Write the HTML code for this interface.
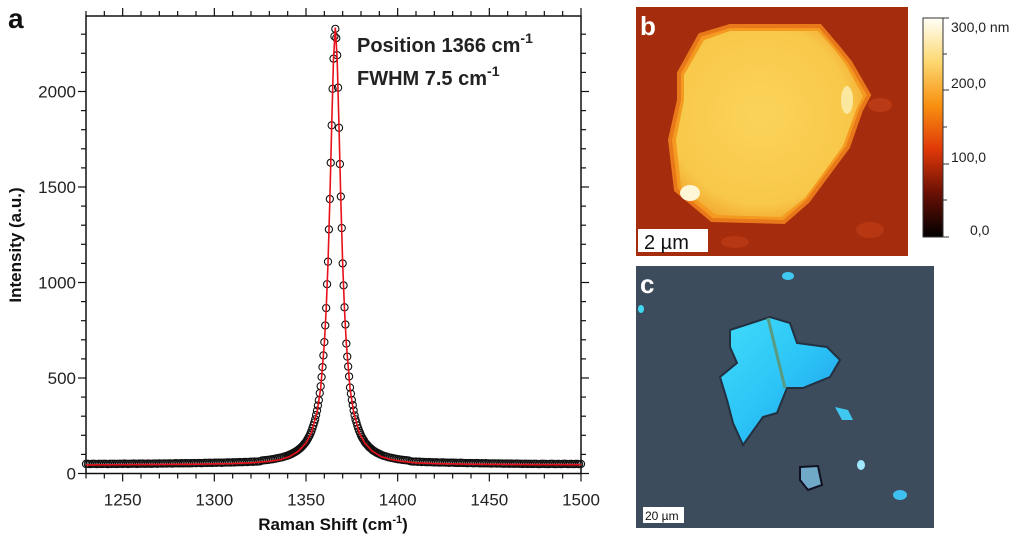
<!DOCTYPE html>
<html><head><meta charset="utf-8">
<style>
body{margin:0;background:#fff;width:1024px;height:539px;overflow:hidden;font-family:"Liberation Sans","DejaVu Sans",sans-serif;}
svg{position:absolute;left:0;top:0}
</style></head>
<body>
<svg id="chart" width="1024" height="539">
  <text x="8" y="28" font-size="28" font-weight="bold" fill="#111">a</text>
  <g id="axes"></g>
  <g id="marks"></g>
  <text x="357" y="52" font-size="20" font-weight="bold" fill="#222">Position 1366 cm<tspan dy="-9" font-size="14">-1</tspan></text>
  <text x="357" y="85" font-size="20" font-weight="bold" fill="#222">FWHM 7.5 cm<tspan dy="-9" font-size="14">-1</tspan></text>
  <text x="333" y="530" font-size="17" font-weight="bold" fill="#111" text-anchor="middle">Raman Shift (cm<tspan dy="-7" font-size="11">-1</tspan><tspan dy="7">)</tspan></text>
  <text transform="translate(21,245) rotate(-90)" font-size="17" font-weight="bold" fill="#111" text-anchor="middle">Intensity (a.u.)</text>

  <!-- panel b AFM -->
  <g>
    <defs>
      <radialGradient id="flk" cx="0.45" cy="0.45" r="0.6">
        <stop offset="0" stop-color="#fbd35a"/><stop offset="0.8" stop-color="#f8c84a"/><stop offset="1" stop-color="#f2a830"/>
      </radialGradient>
      <linearGradient id="cbar" x1="0" y1="1" x2="0" y2="0">
        <stop offset="0" stop-color="#000"/><stop offset="0.2" stop-color="#6a1005"/><stop offset="0.4" stop-color="#e03808"/><stop offset="0.6" stop-color="#f89010"/><stop offset="0.8" stop-color="#fcd870"/><stop offset="1" stop-color="#fffff8"/>
      </linearGradient>
    </defs>
    <rect x="636" y="7" width="272" height="249" fill="#a52c0c"/>
    <ellipse cx="880" cy="105" rx="12" ry="7" fill="#c24018" opacity="0.7"/>
    <ellipse cx="870" cy="230" rx="14" ry="8" fill="#c24018" opacity="0.6"/>
    <ellipse cx="735" cy="242" rx="14" ry="6" fill="#c24018" opacity="0.6"/>
    <polygon points="700,35 730,26 820,26 837,46 850,62 869,95 861,110 848,147 808,201 784,222 712,220 676,190 670,140 679,100 679,73" fill="#f59a20" stroke="#e8781a" stroke-width="4"/>
    <polygon points="704,40 730,31 818,31 834,49 846,65 863,96 856,110 843,146 805,198 781,217 716,215 681,187 676,140 684,100 684,75" fill="url(#flk)"/>
    <ellipse cx="690" cy="193" rx="10" ry="8" fill="#fff6d8"/>
    <ellipse cx="847" cy="100" rx="6" ry="14" fill="#fbe8a0"/>
    <rect x="638" y="229" width="70" height="23" fill="#fff"/>
    <text x="644" y="249" font-size="20" fill="#111">2 µm</text>
    <text x="640" y="35" font-size="26" font-weight="bold" fill="#fff">b</text>
  </g>
  <g>
    <rect x="923" y="18" width="20" height="219" fill="url(#cbar)" stroke="#333" stroke-width="1"/>
    <g stroke="#333" stroke-width="1">
      <line x1="943" y1="18" x2="949" y2="18"/><line x1="943" y1="54" x2="947" y2="54"/><line x1="943" y1="90" x2="949" y2="90"/><line x1="943" y1="127" x2="947" y2="127"/><line x1="943" y1="164" x2="949" y2="164"/><line x1="943" y1="200" x2="947" y2="200"/><line x1="943" y1="237" x2="949" y2="237"/>
    </g>
    <text x="951" y="32" font-size="14" fill="#222">300,0 nm</text>
    <text x="951" y="88" font-size="14" fill="#222">200,0</text>
    <text x="951" y="162" font-size="14" fill="#222">100,0</text>
    <text x="970" y="235" font-size="14" fill="#222">0,0</text>
  </g>

  <!-- panel c optical -->
  <g>
    <defs>
      <linearGradient id="cyn" x1="0" y1="0" x2="1" y2="1">
        <stop offset="0" stop-color="#40dcfa"/><stop offset="0.5" stop-color="#2cc4f6"/><stop offset="1" stop-color="#2098e8"/>
      </linearGradient>
    </defs>
    <rect x="636" y="266" width="298" height="262" fill="#3c4c5c"/>
    <polygon points="730,330 770,317 790,323 797,343 827,347 840,360 830,377 803,388 787,388 777,413 763,417 743,445 733,423 727,400 720,377 737,363 730,347" fill="url(#cyn)" stroke="#223040" stroke-width="2"/>
    <line x1="768" y1="318" x2="785" y2="388" stroke="#5a9a80" stroke-width="3"/>
    <polygon points="835,407 848,410 853,420 842,420" fill="#40c8f0"/>
    <polygon points="800,467 818,466 822,485 808,490 800,480" fill="#70a8c8" stroke="#112" stroke-width="2"/>
    <ellipse cx="861" cy="465" rx="4" ry="5" fill="#a0e8ff"/>
    <ellipse cx="900" cy="495" rx="7" ry="5" fill="#40c0f0"/>
    <ellipse cx="788" cy="276" rx="6" ry="4" fill="#40c8f0"/>
    <ellipse cx="641" cy="309" rx="3" ry="4" fill="#40d8f0"/>
    <rect x="643" y="507" width="41" height="16" fill="#fff"/>
    <text x="645" y="520" font-size="12" fill="#111">20 µm</text>
    <text x="640" y="293" font-size="26" font-weight="bold" fill="#fff">c</text>
  </g>
</svg>
<script>
// ---- chart data ----
const xStart = 1230;
const xTicks = [1250, 1300, 1350, 1400, 1450, 1500];
const yTicks = [0, 500, 1000, 1500, 2000];
// measured intensities at integer shifts 1230..1500
const intensity = [
50,51,49,50,51,50,49,51,50,50,51,50,49,51,50,51,50,50,51,51,50,52,51,50,51,51,52,51,50,52,51,52,51,51,52,51,
51,52,52,51,53,52,52,53,52,53,53,52,53,54,53,53,54,53,54,54,
53,54,54,55,54,55,55,54,55,56,55,56,56,55,57,56,57,57,56,57,
57,58,58,57,59,58,59,59,60,59,60,61,60,61,62,61,63,62,63,64,
68,69,70,71,72,74,75,77,79,81,
83,85,88,91,94,98,102,107,112,118,
126,134,143,154,166,182,200,223,251,284,
329,384,457,557,688,866,1109,1437,1823,2172,
2328,
2190,1810,1450,1100,870,680,560,450,385,330,
284,251,223,200,182,166,154,143,134,126,
118,112,107,102,98,94,91,88,85,83,
81,79,77,75,74,72,71,70,69,68,
64,63,62,63,61,62,60,61,60,59,60,59,59,58,59,58,57,58,58,57,
57,56,57,57,56,56,55,56,56,55,55,54,55,55,54,54,55,54,53,54,
53,54,53,53,52,53,53,52,53,52,52,51,52,52,51,52,51,51,52,51,
51,50,51,51,50,51,50,50,51,50,49,50,51,50,50,49,50,51,50,49,50,50,49,50,51,50,49,50,50,49,50,50,49,50];
// extra measured intensities at half-step shifts 1340.5..1390.5
const halfStart = 1340.5;
const intensityHalf = [96,100,105,110,116,122,129,138,148,160,174,191,211,237,267,306,356,421,505,618,775,991,1278,1627,2014,2289,
2280,2020,1620,1285,985,780,612,508,418,358,304,268,236,212,190,175,159,149,137,130,121,116,109,105,100];
const fitX = [1230,1260,1290,1310,1320,1330,1336,1341,1346,1350,1353,1356,1358,1360,1361,1362,1363,1364,1365,1366,1367,1368,1369,1370,1371,1372,1374,1376,1379,1382,1386,1391,1396,1402,1410,1420,1440,1470,1500];
const fitY = [45,47,49,52,56,64,72,88,118,160,215,320,445,680,858,1100,1430,1815,2170,2335,2170,1815,1430,1100,858,680,445,320,215,160,118,88,74,64,56,52,49,47,46];

const X0=86, X1=581, Y0=473.5, YT=16, XMAX=1500;
const sx = v => X0 + (v - xStart) * (X1 - X0) / (XMAX - xStart);
const sy = v => Y0 - v * 0.191;
const NS = 'http://www.w3.org/2000/svg';
function mk(tag, attrs, parent){const e=document.createElementNS(NS,tag);for(const k in attrs)e.setAttribute(k,attrs[k]);parent.appendChild(e);return e;}
const axes=document.getElementById('axes'), marks=document.getElementById('marks');

const frame = mk('rect',{x:X0,y:YT,width:X1-X0,height:Y0-YT,fill:'none',stroke:'#111','stroke-width':1.5},axes);


for(let v=xStart; v<=XMAX; v+=10){
  const major = xTicks.includes(v);
  const L = major?8:5;
  mk('line',{x1:sx(v),x2:sx(v),y1:Y0,y2:Y0+L,stroke:'#111','stroke-width':1.2},axes);
  mk('line',{x1:sx(v),x2:sx(v),y1:YT,y2:YT-L,stroke:'#111','stroke-width':1.2},axes);
}
xTicks.forEach(v=>{
  const t=mk('text',{x:sx(v),y:Y0+32,'text-anchor':'middle','font-size':17,fill:'#222'},axes);
  t.textContent=v;
  
  
});
for(let v=0; v<=2400; v+=100){
  if(sy(v)<YT) break;
  const major = yTicks.includes(v);
  const L = major?8:5;
  mk('line',{x1:X0-L,x2:X0,y1:sy(v),y2:sy(v),stroke:'#111','stroke-width':1.2},axes);
  mk('line',{x1:X1,x2:X1+L,y1:sy(v),y2:sy(v),stroke:'#111','stroke-width':1.2},axes);
}
yTicks.forEach(v=>{
  const t=mk('text',{x:X0-10,y:sy(v)+6,'text-anchor':'end','font-size':17,fill:'#222'},axes);
  t.textContent=v;
  
  
});

intensity.forEach((v,i)=>{
  const c=mk('circle',{cx:sx(xStart+i),cy:sy(v),r:3.6,fill:'none',stroke:'#111','stroke-width':1.1},marks);
  
  
});
intensityHalf.forEach((v,i)=>{
  const c=mk('circle',{cx:sx(halfStart+i),cy:sy(v),r:3.6,fill:'none',stroke:'#111','stroke-width':1.1},marks);
  
  
});
const fit=mk('polyline',{points:fitX.map((x,i)=>sx(x)+','+sy(fitY[i])).join(' '),fill:'none',stroke:'#e8101a','stroke-width':1.6},marks);


</script>
</body></html>
